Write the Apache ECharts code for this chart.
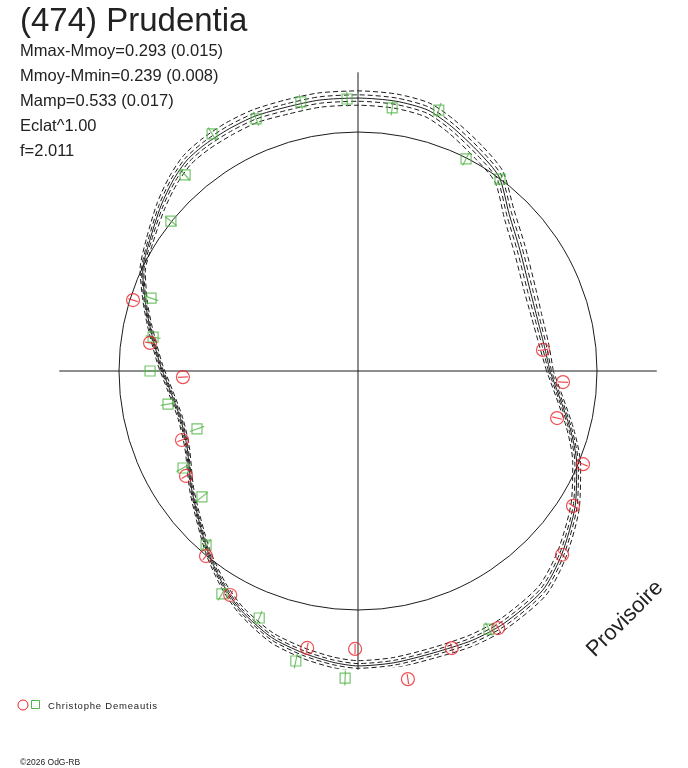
<!DOCTYPE html>
<html>
<head>
<meta charset="utf-8">
<title>(474) Prudentia</title>
<script src="https://cdn.jsdelivr.net/npm/echarts@6/dist/echarts.min.js"></script>
<style>
  html, body { margin: 0; padding: 0; background: #fff; }
  #chart { width: 688px; height: 768px; }
</style>
</head>
<body>
<div id="chart"></div>
<script>
// ---- données ----
// angle en degrés (sens trigo, 0 = est), rayon en unités du cercle de référence
const curveAngles = [0, 8, 17, 25, 37, 46, 54, 61, 69, 75, 82, 90, 98, 105, 112, 118, 124, 129, 134, 140,
  148, 155, 162, 168, 178, 186, 195, 204, 216, 230, 238, 244, 252, 259, 265, 270, 277, 285, 293, 300,
  310, 318, 328, 337, 345, 360]
const curveRadius = [0.803, 0.786, 0.782, 0.795, 0.847, 0.911, 1.004, 1.045, 1.095, 1.13, 1.14, 1.142, 1.145, 1.144, 1.15, 1.148, 1.144, 1.136, 1.112, 1.076,
  1.028, 0.994, 0.936, 0.89, 0.829, 0.79, 0.769, 0.783, 0.858, 0.98, 1.06, 1.115, 1.172, 1.202, 1.223, 1.234, 1.23, 1.221, 1.224, 1.22,
  1.2, 1.147, 1.071, 0.994, 0.918, 0.803]
// demi-largeur du faisceau de courbes pointillées
const curveSpread = [0.014, 0.02, 0.022, 0.025, 0.027, 0.028, 0.028, 0.03, 0.03, 0.03, 0.03, 0.03, 0.03, 0.03, 0.028, 0.028, 0.026, 0.024, 0.022, 0.02,
  0.016, 0.012, 0.01, 0.01, 0.01, 0.01, 0.01, 0.01, 0.01, 0.012, 0.014, 0.016, 0.02, 0.022, 0.022, 0.022, 0.022, 0.022, 0.024, 0.024,
  0.024, 0.022, 0.02, 0.018, 0.016, 0.014]
const bandSteps = [-1, -0.45, 0.45, 1]

// observations (cercles rouges / carrés verts)
const redAngles = [162.5, 172.3, 182.0, 201.4, 211.4, 230.6, 240.3, 259.6, 269.4, 279.2, 288.7, 298.6, 318.0, 327.9, 337.5, 346.7, 356.9, 6.5]
const redRadius = [0.987, 0.878, 0.733, 0.791, 0.843, 1.002, 1.079, 1.178, 1.163, 1.306, 1.224, 1.225, 1.149, 1.062, 1.019, 0.856, 0.859, 0.779]
const greenAngles = [121.6, 131.4, 141.3, 160.6, 170.6, 180.0, 189.9, 199.8, 209.0, 218.9, 228.9, 238.6, 248.2, 257.9, 267.6, 296.9,
  53.5, 63.0, 72.8, 82.6, 92.3, 102.0, 112.0]
const greenRadius = [1.165, 1.094, 1.003, 0.918, 0.869, 0.870, 0.807, 0.716, 0.837, 0.839, 0.967, 1.093, 1.113, 1.241, 1.286, 1.211,
  0.999, 0.996, 1.143, 1.110, 1.139, 1.151, 1.138]

const titleText = '(474) Prudentia'
const statLines = ['Mmax-Mmoy=0.293 (0.015)', 'Mmoy-Mmin=0.239 (0.008)', 'Mamp=0.533 (0.017)', 'Eclat^1.00', 'f=2.011']
const observer = 'Christophe Demeautis'
const stampText = 'Provisoire'
const copyText = '©2026 OdG-RB'

// ---- construction ----
const INK = '#1c1c1c'
const RED = '#e8262b'
const GREEN = '#52b548'
const FONT = 'Liberation Sans, Arial, sans-serif'

function pairs(radii, angles) {
  return radii.map((r, i) => [r, angles[i]])
}

function curveLine(data, dashed, z) {
  return {
    type: 'line',
    coordinateSystem: 'polar',
    data,
    showSymbol: false,
    smooth: 0.25,
    silent: true,
    lineStyle: { color: INK, width: 1, type: dashed ? [5, 3] : 'solid' },
    z,
  }
}

// marqueur (contour seul) + barre d'erreur radiale séparée
function observations(data, symbol, size, color, barLen, z) {
  return [
    {
      type: 'scatter',
      coordinateSystem: 'polar',
      data,
      symbol,
      symbolSize: size,
      clip: false,
      silent: true,
      itemStyle: { color: 'transparent', borderColor: color, borderWidth: 1.2 },
      z,
    },
    {
      type: 'scatter',
      coordinateSystem: 'polar',
      data,
      symbol: 'rect',
      symbolSize: [1.2, barLen],
      symbolRotate: (v) => v[1] - 90,
      clip: false,
      silent: true,
      itemStyle: { color },
      z,
    },
  ]
}

const series = []
bandSteps.forEach((k) => {
  series.push(curveLine(curveRadius.map((r, i) => [r + k * curveSpread[i], curveAngles[i]]), true, 2))
})
series.push(curveLine(pairs(curveRadius, curveAngles), false, 3))
series.push(...observations(pairs(greenRadius, greenAngles), 'rect', 10, GREEN, 15, 4))
series.push(...observations(pairs(redRadius, redAngles), 'circle', 13, RED, 10, 5))

// textes
const graphic = [
  { type: 'text', x: 20, y: 22, style: { text: titleText, font: '33px ' + FONT, fill: '#222', verticalAlign: 'middle' } },
]
statLines.forEach((t, i) => {
  graphic.push({ type: 'text', x: 20, y: 51 + i * 25, style: { text: t, font: '16.5px ' + FONT, fill: '#222', verticalAlign: 'middle' } })
})
graphic.push(
  { type: 'text', x: 625, y: 619, rotation: Math.PI / 4, style: { text: stampText, font: '22px ' + FONT, fill: '#222', align: 'center', verticalAlign: 'middle' } },
  { type: 'circle', shape: { cx: 23, cy: 705, r: 5 }, style: { fill: 'none', stroke: RED, lineWidth: 1 } },
  { type: 'rect', shape: { x: 31.5, y: 700.5, width: 8, height: 8 }, style: { fill: 'none', stroke: GREEN, lineWidth: 1 } },
  { type: 'text', x: 48, y: 706, style: { text: observer.split('').join('\u200A'), font: '9.5px ' + FONT, fill: '#222', verticalAlign: 'middle' } },
  { type: 'text', x: 20, y: 763, style: { text: copyText, font: '8.5px ' + FONT, fill: '#222', verticalAlign: 'middle' } }
)

const option = {
  backgroundColor: '#fff',
  animation: false,
  polar: { center: [358, 371], radius: 298.75 },
  angleAxis: {
    type: 'value',
    min: 0,
    max: 360,
    interval: 90,
    startAngle: 0,
    clockwise: false,
    axisLine: { show: false },
    axisTick: { show: false },
    axisLabel: { show: false },
    splitLine: { show: true, lineStyle: { color: INK, width: 1 } },
  },
  radiusAxis: {
    type: 'value',
    min: 0,
    max: 1.25,
    interval: 1,
    axisLine: { show: false },
    axisTick: { show: false },
    axisLabel: { show: false },
    // seul le cercle r = 1 est tracé
    splitLine: { show: true, lineStyle: { color: ['transparent', INK, 'transparent'], width: 1 } },
  },
  series,
  graphic,
}

const chart = echarts.init(document.getElementById('chart'))
chart.setOption(option)
</script>
</body>
</html>
